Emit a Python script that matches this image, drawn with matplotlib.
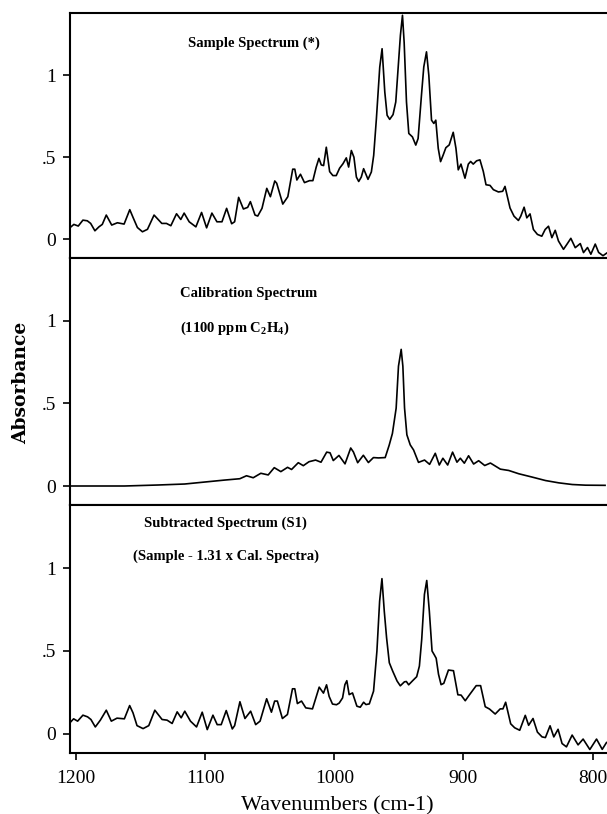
"""
Three stacked FTIR absorbance spectra: sample, calibration (C2H4) and the
subtracted spectrum, sharing one wavenumber axis.
"""

import matplotlib
matplotlib.use('Agg')
import matplotlib.pyplot as plt

# Sample spectrum (*)
wn_sample = [1205.5, 1201.7, 1198.3, 1194.7, 1191.3, 1188.7, 1185.4, 1182.3, 1179.7, 1176.6,
             1172.4, 1168.0, 1162.8, 1158.4, 1155.9, 1152.5, 1148.6, 1144.7, 1139.6, 1133.6,
             1130.0, 1126.6, 1122.2, 1118.9, 1116.3, 1112.4, 1107.2, 1102.8, 1098.9, 1094.8,
             1090.9, 1087.0, 1083.4, 1079.5, 1077.2, 1074.1, 1070.4, 1067.1, 1065.0, 1061.4,
             1059.3, 1056.0, 1052.3, 1049.5, 1046.1, 1044.6, 1039.9, 1036.0, 1032.2, 1030.6,
             1029.0, 1026.2, 1023.1, 1019.2, 1016.6,
             1014.0, 1011.9, 1010.1, 1008.3, 1006.2, 1003.6, 1001.1, 998.5, 995.9, 993.3,
             990.7, 988.9, 986.8, 984.8, 982.9, 981.1, 979.1, 977.3, 973.9, 971.3,
             969.5, 967.4, 964.8, 963.0, 960.9, 959.1, 957.1, 954.5, 952.4, 950.6,
             948.8, 947.2, 945.9, 944.1, 942.3, 939.5, 936.9, 935.1, 932.5, 930.7,
             928.6, 926.8, 924.7, 922.9, 921.4, 919.5, 917.7, 915.7, 913.6, 911.0,
             907.9, 905.8, 904.0, 901.9, 898.8, 896.2, 894.4, 892.4, 889.8, 887.2,
             884.6, 882.5, 879.4, 876.8, 872.9, 869.6, 867.8, 866.0, 863.9, 860.8,
             857.4, 855.6, 853.0, 850.9, 848.4, 845.8, 842.7, 839.3, 836.7, 834.1,
             831.5, 828.9, 826.4, 822.5, 819.9, 816.8, 813.4, 809.5, 807.0, 803.9,
             801.3, 797.9, 795.3, 791.9, 789.0]
abs_sample = [0.065, 0.09, 0.08, 0.116, 0.112, 0.096, 0.051, 0.075, 0.09, 0.147,
              0.086, 0.1, 0.092, 0.18, 0.133, 0.071, 0.045, 0.06, 0.147, 0.096,
              0.096, 0.082, 0.155, 0.12, 0.159, 0.106, 0.075, 0.163, 0.069, 0.159,
              0.106, 0.106, 0.188, 0.094, 0.106, 0.255, 0.184, 0.194, 0.229, 0.147,
              0.141, 0.188, 0.31, 0.259, 0.355, 0.341, 0.214, 0.259, 0.427, 0.427,
              0.361, 0.396, 0.345, 0.357, 0.357,
              0.44, 0.493, 0.453, 0.449, 0.561, 0.412, 0.388, 0.388, 0.433, 0.46,
              0.496, 0.44, 0.541, 0.5, 0.379, 0.352, 0.379, 0.43, 0.365, 0.41,
              0.511, 0.735, 1.05, 1.162, 0.898, 0.756, 0.731, 0.76, 0.837, 1.04,
              1.244, 1.366, 1.2, 0.837, 0.645, 0.624, 0.574, 0.614, 0.878, 1.051,
              1.143, 1.0, 0.726, 0.706, 0.726, 0.554, 0.473, 0.513, 0.558, 0.575,
              0.652, 0.555, 0.423, 0.458, 0.372, 0.458, 0.474, 0.458, 0.478, 0.484,
              0.413, 0.332, 0.328, 0.302, 0.288, 0.292, 0.322, 0.261, 0.19, 0.14,
              0.114, 0.14, 0.195, 0.13, 0.154, 0.059, 0.029, 0.018, 0.059, 0.079,
              0.009, 0.054, -0.011, -0.062, -0.032, 0.005, -0.052, -0.027, -0.082, -0.051,
              -0.092, -0.03, -0.081, -0.101, -0.085]

# Calibration spectrum (1100 ppm C2H4)
wn_cal = [1205.7, 1180.0, 1162.5, 1136.6, 1115.9, 1097.8, 1084.8, 1073.2, 1068.0, 1062.8,
          1056.9, 1051.2, 1046.5, 1041.4, 1036.2, 1033.1, 1027.9, 1024.0, 1019.6, 1014.5,
          1010.3, 1005.9, 1003.3, 1000.8, 996.4, 991.7, 987.3, 985.2, 981.9, 977.5,
          973.6, 969.7, 965.8, 960.6, 957.5, 955.0, 952.1, 950.3, 948.2, 946.9,
          945.6, 943.8, 941.2, 938.6, 934.8, 930.1, 926.2, 921.8, 918.7, 915.9,
          912.2, 908.4, 905.0, 902.4, 899.3, 896.0, 892.1, 888.2, 883.5, 879.1,
          871.4, 864.9, 857.1, 846.8, 836.4, 826.1, 815.7, 805.4, 790.3]
abs_cal = [0.0, 0.0, 0.0, 0.006, 0.012, 0.026, 0.036, 0.044, 0.062, 0.05,
           0.077, 0.067, 0.111, 0.087, 0.113, 0.1, 0.141, 0.123, 0.147, 0.157,
           0.144, 0.205, 0.201, 0.154, 0.185, 0.134, 0.23, 0.206, 0.141, 0.186,
           0.142, 0.172, 0.17, 0.172, 0.247, 0.318, 0.471, 0.725, 0.827, 0.725,
           0.472, 0.31, 0.249, 0.218, 0.143, 0.157, 0.131, 0.198, 0.127, 0.168,
           0.127, 0.205, 0.144, 0.168, 0.138, 0.183, 0.133, 0.153, 0.124, 0.139,
           0.102, 0.094, 0.074, 0.054, 0.033, 0.019, 0.009, 0.005, 0.004]

# Subtracted spectrum (S1) = sample - 1.31 x calibration
wn_sub = [1205.3, 1201.9, 1198.8, 1194.7, 1191.1, 1188.5, 1185.1, 1181.2, 1176.6, 1172.7,
          1168.3, 1162.6, 1158.5, 1155.9, 1152.8, 1148.1, 1143.7, 1139.0, 1133.4, 1129.5,
          1125.6, 1121.7, 1118.6, 1115.8, 1111.4, 1106.7, 1102.3, 1098.4, 1094.0, 1090.7,
          1087.6, 1083.7, 1079.0, 1077.2, 1073.1, 1069.2, 1064.8, 1060.9, 1057.5, 1052.4,
          1048.7, 1046.2, 1044.1, 1040.2, 1036.3, 1032.4, 1030.6, 1028.6, 1025.4, 1022.1,
          1016.9, 1011.7,
          1008.4, 1006.0, 1004.0, 1001.4, 998.3, 996.2, 993.6, 991.8, 990.3, 988.5,
          985.9, 982.5, 979.9, 977.3, 975.5, 972.9, 969.6, 967.0, 964.9, 963.1,
          961.3, 959.5, 957.4, 954.8, 951.4, 948.9, 945.7, 944.2, 942.4, 939.3,
          936.2, 934.1, 932.3, 930.2, 928.4, 926.4, 924.3, 922.5, 921.1, 919.3,
          917.3, 915.2, 911.6, 907.7, 904.3, 901.8, 898.6, 895.3, 890.1, 886.7,
          883.1, 879.8, 875.4, 871.5, 869.4, 867.3, 863.4, 860.3, 856.4, 852.1,
          849.5, 846.1, 842.7, 839.1, 836.5, 832.9, 830.0, 826.7, 823.6, 820.2,
          815.8, 811.2, 807.3, 802.1, 796.9, 792.5, 789.2]
abs_sub = [0.063, 0.091, 0.077, 0.113, 0.103, 0.087, 0.042, 0.083, 0.143, 0.077,
           0.095, 0.091, 0.171, 0.127, 0.05, 0.032, 0.05, 0.143, 0.087, 0.083,
           0.063, 0.133, 0.097, 0.137, 0.077, 0.042, 0.131, 0.026, 0.113, 0.056,
           0.056, 0.141, 0.03, 0.05, 0.194, 0.093, 0.137, 0.056, 0.077, 0.212,
           0.131, 0.198, 0.198, 0.093, 0.117, 0.272, 0.272, 0.183, 0.198, 0.157,
           0.151, 0.282,
           0.246, 0.296, 0.226, 0.18, 0.176, 0.186, 0.217, 0.297, 0.321, 0.237,
           0.247, 0.167, 0.161, 0.191, 0.177, 0.181, 0.258, 0.499, 0.8, 0.936,
           0.74, 0.579, 0.429, 0.379, 0.319, 0.29, 0.314, 0.316, 0.296, 0.321,
           0.345, 0.409, 0.57, 0.841, 0.925, 0.74, 0.5, 0.476, 0.456, 0.36,
           0.297, 0.305, 0.385, 0.381, 0.236, 0.234, 0.2, 0.236, 0.291, 0.291,
           0.164, 0.15, 0.12, 0.151, 0.151, 0.191, 0.061, 0.037, 0.022, 0.112,
           0.052, 0.093, 0.011, -0.018, -0.022, 0.049, -0.018, 0.028, -0.058, -0.078,
           -0.007, -0.066, -0.031, -0.094, -0.031, -0.093, -0.052]

y_ticks = [0, 0.5, 1]
y_tick_labels = ['0', '.5', '1']
x_ticks = [1200, 1100, 1000, 900, 800]
x_tick_labels = ['1200', '1100', '1000', '900', '800']

# no condensed sans installed; Times-like digits have about the right width
TICK_FONT = ['Liberation Serif', 'DejaVu Serif']
TITLE_FONT = ['Liberation Serif', 'DejaVu Serif']

# subscripts in the calibration label use bold Times-like glyphs
plt.rcParams['mathtext.fontset'] = 'custom'
plt.rcParams['mathtext.rm'] = 'Liberation Serif:bold'
plt.rcParams['mathtext.it'] = 'Liberation Serif:bold'
plt.rcParams['mathtext.bf'] = 'Liberation Serif:bold'

W, H = 607, 814
fig = plt.figure(figsize=(W / 100, H / 100), dpi=100)

# panel edges in pixels from the top: (top, bottom)
panels = [(13, 258), (258, 505), (505, 753)]
ax_left = 70
series = [(wn_sample, abs_sample), (wn_cal, abs_cal), (wn_sub, abs_sub)]

axes = []
for i, ((top, bot), (wn, ab)) in enumerate(zip(panels, series)):
    ax = fig.add_axes([ax_left / W, 1 - bot / H, (W - ax_left) / W, (bot - top) / H])
    ax.plot(wn, ab, color='black', linewidth=1.2)
    ax.set_xlim(1204.7, 788.8)
    ax.set_ylim(-0.115, 1.38)
    ax.set_yticks(y_ticks)
    ax.set_yticklabels(y_tick_labels, family=TICK_FONT, fontsize=14)
    ax.tick_params(axis='y', direction='out', length=5, width=1.2, pad=5)
    for side in ['left', 'top', 'bottom']:
        ax.spines[side].set_linewidth(1.5)
    ax.spines['right'].set_visible(False)
    if i < 2:
        ax.tick_params(axis='x', bottom=False, labelbottom=False)
    else:
        ax.set_xticks(x_ticks)
        ax.set_xticklabels(x_tick_labels, family=TICK_FONT, fontsize=14)
        ax.tick_params(axis='x', direction='out', length=5, width=1.2, pad=7)
    axes.append(ax)

# panel annotations (left edge x, baseline y in pixels)
notes = [
    ('Sample Spectrum (*)', 188, 46.5),
    ('Calibration Spectrum', 180, 296.5),
    ('(1100 ppm C$_2$H$_4$)', 180, 331.5),
    ('Subtracted Spectrum (S1)', 144, 527),
    ('(Sample - 1.31 x Cal. Spectra)', 133, 560),
]
for txt, x, y in notes:
    fig.text(x / W, 1 - y / H, txt, family=TITLE_FONT, fontweight='bold',
             fontsize=10.5, ha='left', va='baseline')

fig.text(21 / W, 1 - 383 / H, 'Absorbance', family=['DejaVu Serif'], fontweight='bold',
         fontsize=13.5, rotation=90, ha='center', va='center')
fig.text(337 / W, 1 - 810 / H, 'Wavenumbers (cm-1)', family=TICK_FONT,
         fontsize=16, ha='center', va='baseline')

fig.savefig('out.png', dpi=100)
